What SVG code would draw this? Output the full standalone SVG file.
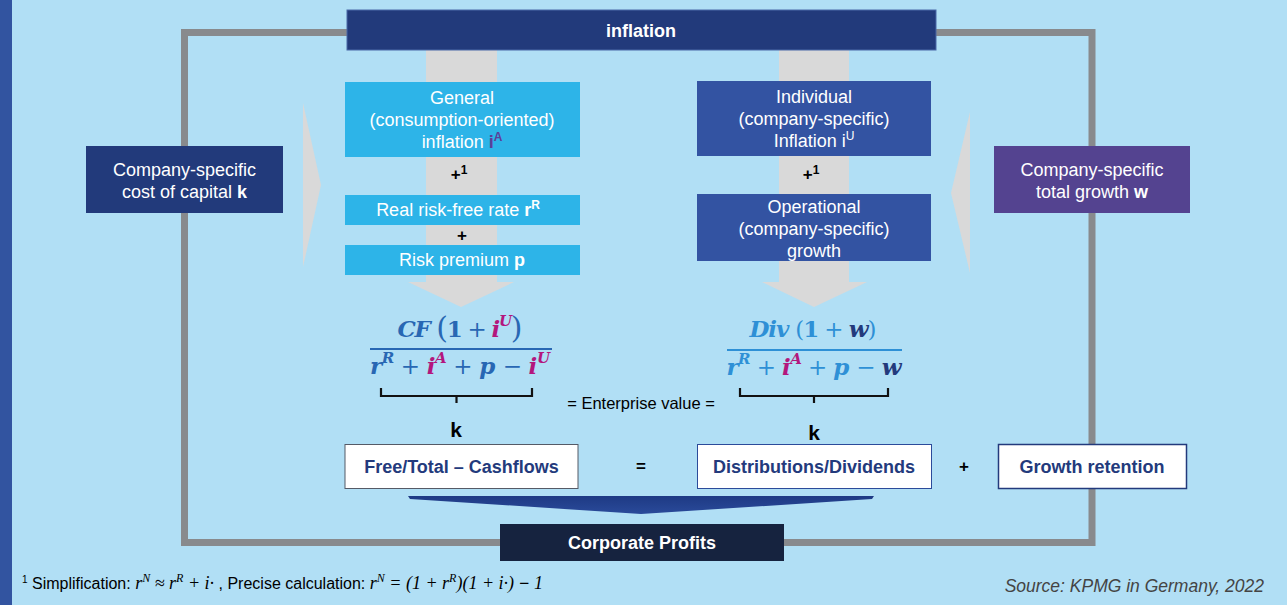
<svg xmlns="http://www.w3.org/2000/svg" width="1287" height="605" viewBox="0 0 1287 605">
<defs>
<style>
.sans{font-family:"Liberation Sans",Arial,sans-serif;}
.lbl{font-family:"Liberation Sans",Arial,sans-serif;font-size:18px;fill:#ffffff;text-anchor:middle;}
.blk{font-family:"Liberation Sans",Arial,sans-serif;font-weight:bold;fill:#000000;text-anchor:middle;}
.out{font-family:"Liberation Sans",Arial,sans-serif;font-size:18px;font-weight:bold;fill:#233a7c;text-anchor:middle;}
.math{font-family:"DejaVu Serif","Liberation Serif",serif;font-size:23px;font-weight:bold;font-style:italic;text-anchor:middle;}
.up{font-style:normal;font-weight:normal;}
.mag{fill:#b3177d;}
.sup{font-size:15px;}
.gray{fill:#d9d9d9;}
.frame{fill:none;stroke:#888a8d;stroke-width:7;}
.brace{fill:none;stroke:#111111;stroke-width:2.2;}
.fn{font-family:"Liberation Serif","Times New Roman",serif;font-style:italic;}
</style>
<linearGradient id="chev" x1="0" y1="0" x2="0" y2="1">
<stop offset="0" stop-color="#1e3a84"/>
<stop offset="1" stop-color="#2a4a9a"/>
</linearGradient>
</defs>
<rect x="0" y="0" width="1287" height="605" fill="#b1dff5"/>
<rect x="0" y="0" width="12" height="605" fill="#3254a0"/>

<g id="frame">
<rect class="frame" x="184.5" y="32.5" width="907.5" height="510"/>
</g>

<g id="connectors">
<polygon class="gray" points="426,50 497,50 497,282 514,282 461,307 408,282 426,282"/>
<polygon class="gray" points="779,50 849,50 849,282 867,282 814,307 762,282 779,282"/>
<polygon class="gray" points="303,103 321,185 303,267"/>
<polygon class="gray" points="970,112 951,193 970,273"/>
<polygon fill="url(#chev)" points="408,496 874,496 872,499 641,514 410,499"/>
</g>

<g id="inflation">
<rect x="347" y="10" width="589" height="40" fill="#223a7b" stroke="#4a68a8" stroke-width="1"/>
<text x="641" y="37" class="sans" font-size="18" font-weight="bold" fill="#ffffff" text-anchor="middle">inflation</text>
</g>

<g id="general">
<rect x="345" y="82" width="235" height="75" fill="#2db4e8"/>
<text class="lbl" x="462" y="104">General</text>
<text class="lbl" x="462" y="126">(consumption-oriented)</text>
<text class="lbl" x="462" y="148">inflation <tspan font-weight="bold" fill="#5b3f99">i</tspan><tspan font-weight="bold" fill="#5b3f99" font-size="12" dy="-7">A</tspan></text>
</g>
<text class="blk" x="459" y="180" font-size="17">+<tspan font-size="12" dy="-6">1</tspan></text>

<g id="realrate">
<rect x="345" y="195" width="235" height="30" fill="#2db4e8"/>
<text class="lbl" x="458" y="216">Real risk-free rate <tspan font-weight="bold">r</tspan><tspan font-weight="bold" font-size="12" dy="-7">R</tspan></text>
</g>
<text class="blk" x="462" y="241" font-size="17">+</text>

<g id="riskpremium">
<rect x="345" y="245" width="235" height="30" fill="#2db4e8"/>
<text class="lbl" x="462" y="266">Risk premium <tspan font-weight="bold">p</tspan></text>
</g>

<g id="individual">
<rect x="697" y="81" width="234" height="75" fill="#3353a2"/>
<text class="lbl" x="814" y="103">Individual</text>
<text class="lbl" x="814" y="125">(company-specific)</text>
<text class="lbl" x="814" y="147">Inflation i<tspan font-size="12" dy="-7">U</tspan></text>
</g>
<text class="blk" x="811" y="180" font-size="17">+<tspan font-size="12" dy="-6">1</tspan></text>

<g id="operational">
<rect x="697" y="194" width="234" height="67" fill="#3353a2"/>
<text class="lbl" x="814" y="213">Operational</text>
<text class="lbl" x="814" y="235">(company-specific)</text>
<text class="lbl" x="814" y="257">growth</text>
</g>

<g id="costofcapital">
<rect x="86" y="146" width="197" height="67" fill="#223a7b"/>
<text class="lbl" x="184.5" y="176">Company-specific</text>
<text class="lbl" x="184.5" y="198">cost of capital <tspan font-weight="bold">k</tspan></text>
</g>

<g id="totalgrowth">
<rect x="994" y="146" width="196" height="67" fill="#544390"/>
<text class="lbl" x="1092" y="176">Company-specific</text>
<text class="lbl" x="1092" y="198">total growth <tspan font-weight="bold">w</tspan></text>
</g>

<g id="formula-left" fill="#2867b3">
<text class="math" x="460" y="337" textLength="125" lengthAdjust="spacing">CF <tspan class="up" font-size="30" dy="1">(</tspan><tspan font-style="normal" dy="-1">1</tspan><tspan class="up"> + </tspan><tspan class="mag">i</tspan><tspan class="mag sup" dy="-11">U</tspan><tspan class="up" font-size="30" dy="12">)</tspan></text>
<rect x="370" y="348" width="182" height="2" fill="#2867b3"/>
<text class="math" x="460" y="374" textLength="180" lengthAdjust="spacing">r<tspan class="sup" dy="-11">R</tspan><tspan class="up" dy="11"> + </tspan><tspan class="mag">i</tspan><tspan class="mag sup" dy="-11">A</tspan><tspan class="up" dy="11"> + </tspan>p <tspan class="up"> − </tspan><tspan class="mag">i</tspan><tspan class="mag sup" dy="-11">U</tspan></text>
<path class="brace" d="M381,388 V396 H532 V388 M456.5,396 V403"/>
<text class="blk" x="456" y="437" font-size="21">k</text>
</g>

<g id="formula-right" fill="#2e90d6">
<text class="math" x="813" y="337" textLength="127" lengthAdjust="spacing">Div <tspan class="up">(</tspan><tspan font-style="normal">1</tspan><tspan class="up"> + </tspan><tspan fill="#233a7c">w</tspan><tspan class="up">)</tspan></text>
<rect x="727" y="349" width="175" height="2" fill="#2e90d6"/>
<text class="math" x="814" y="375" textLength="175" lengthAdjust="spacing">r<tspan class="sup" dy="-11">R</tspan><tspan class="up" dy="11"> + </tspan><tspan class="mag">i</tspan><tspan class="mag sup" dy="-11">A</tspan><tspan class="up" dy="11"> + </tspan>p <tspan class="up"> − </tspan><tspan fill="#233a7c">w</tspan></text>
<path class="brace" d="M740,388 V396 H888 V388 M814,396 V403"/>
<text class="blk" x="814" y="440" font-size="21">k</text>
</g>

<text class="sans" x="641" y="409" font-size="16.5" fill="#000000" text-anchor="middle">= Enterprise value =</text>

<g id="freecashflows">
<rect x="345" y="444.5" width="233" height="44" fill="#ffffff" stroke="#555a66" stroke-width="1"/>
<text class="out" x="461.5" y="473">Free/Total – Cashflows</text>
</g>
<text class="blk" x="641" y="472" font-size="17">=</text>

<g id="dividends">
<rect x="697.5" y="444.5" width="234" height="44" fill="#ffffff" stroke="#2c4b9a" stroke-width="1"/>
<text class="out" x="814" y="473">Distributions/Dividends</text>
</g>
<text class="blk" x="964" y="472" font-size="17">+</text>

<g id="growthretention">
<rect x="998.5" y="444.5" width="188" height="44" fill="#ffffff" stroke="#233a7c" stroke-width="1.5"/>
<text class="out" x="1092" y="473">Growth retention</text>
</g>

<g id="corporateprofits">
<rect x="500" y="524" width="284" height="37" fill="#16233f"/>
<text class="sans" x="642" y="549" font-size="18" font-weight="bold" fill="#ffffff" text-anchor="middle">Corporate Profits</text>
</g>

<text class="sans" x="22" y="589" font-size="16" fill="#000000"><tspan font-size="10" dy="-6">1</tspan><tspan dy="6"> Simplification: </tspan><tspan class="fn" font-size="18">r</tspan><tspan class="fn" font-size="12" dy="-7">N</tspan><tspan class="fn" font-size="18" font-style="normal" dy="7"> ≈ </tspan><tspan class="fn" font-size="18">r</tspan><tspan class="fn" font-size="12" dy="-7">R</tspan><tspan class="fn" font-size="18" font-style="normal" dy="7"> + </tspan><tspan class="fn" font-size="18">i</tspan><tspan class="fn" font-size="18" font-style="normal">·</tspan> , Precise calculation: <tspan class="fn" font-size="18">r</tspan><tspan class="fn" font-size="12" dy="-7">N</tspan><tspan class="fn" font-size="18" font-style="normal" dy="7"> = (1 + </tspan><tspan class="fn" font-size="18">r</tspan><tspan class="fn" font-size="12" dy="-7">R</tspan><tspan class="fn" font-size="18" font-style="normal" dy="7">)(1 + </tspan><tspan class="fn" font-size="18">i</tspan><tspan class="fn" font-size="18" font-style="normal">·)  </tspan><tspan class="fn" font-size="18" font-style="normal" font-weight="bold">−</tspan><tspan class="fn" font-size="18" font-style="normal"> 1</tspan></text>

<text class="sans" x="1264" y="592" font-size="17.5" font-style="italic" fill="#444444" text-anchor="end">Source: KPMG in Germany, 2022</text>
</svg>
